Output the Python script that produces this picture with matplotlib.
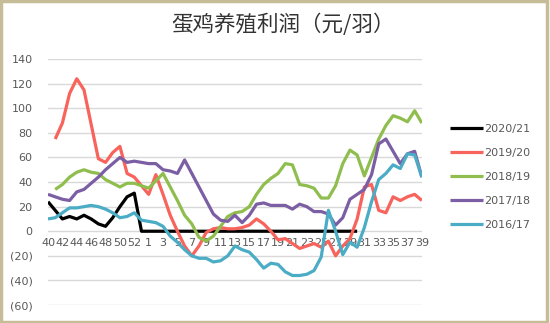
import numpy as np
import matplotlib
matplotlib.use("Agg")
import matplotlib.pyplot as plt
from matplotlib.patches import Rectangle

plt.rcParams['font.family'] = ['DejaVu Sans', 'Noto Sans CJK SC']

# week labels: 40..52, 53, 1..39
weeks = list(range(40, 54)) + list(range(1, 40))
nan = np.nan

s2021 = [24, 17, 10, 12, 10, 13, 10, 6, 4, 11, 20, 28, 31] + [0] * 31 + [nan] * 9
s1920 = [nan, 75, 88, 112, 124, 115, 87, 59, 56, 64, 69, 47, 44, 37, 30, 46, 30, 13,
         0, -12, -20, -12, -1, 2, 3, 2, 2, 3, 5, 10, 6, 0, -7, -6, -10, -14, -12, -10,
         -13, -8, -20, -12, -6, 10, 36, 38, 17, 15, 28, 25, 28, 30, 25]
s1819 = [nan, 34, 38, 44, 48, 50, 48, 47, 42, 39, 36, 39, 39, 37, 35, 41, 47, 36,
         25, 13, 6, -5, -8, -4, 4, 12, 15, 16, 20, 30, 38, 43, 47, 55, 54, 38, 37, 35,
         27, 27, 37, 55, 66, 62, 45, 60, 75, 86, 94, 92, 89, 98, 88]
s1718 = [30, 28, 26, 25, 32, 34, 39, 44, 50, 55, 60, 56, 57, 56, 55, 55, 50, 49,
         47, 58, 47, 36, 25, 14, 9, 8, 13, 7, 13, 22, 23, 21, 21, 21, 18, 22, 20, 16,
         16, 14, 5, 11, 26, 30, 34, 46, 71, 75, 65, 55, 63, 65, 44]
s1617 = [10, 11, 15, 19, 19, 20, 21, 20, 18, 15, 11, 12, 15, 9, 8, 7, 4, -4,
         -9, -15, -20, -22, -22, -25, -24, -20, -12, -15, -17, -23, -30, -26, -27, -33,
         -36, -36, -35, -32, -21, 17, 0, -19, -9, -13, 3, 24, 42, 47, 54, 51, 63, 62, 44]

series = [("2020/21", s2021, "#000000"),
          ("2019/20", s1920, "#f8635c"),
          ("2018/19", s1819, "#8fbe4f"),
          ("2017/18", s1718, "#7b5ea3"),
          ("2016/17", s1617, "#4bacc6")]

fig = plt.figure(figsize=(5.5, 3.23), dpi=100)
ax = fig.add_axes([0.0873, 0.0557, 0.767 - 0.0873, 0.817 - 0.0557])

x = np.arange(len(weeks))
for name, vals, col in series:
    ax.plot(x, vals, color=col, lw=2.3, label=name, solid_capstyle="butt")

ax.set_xlim(0, len(weeks) - 1)
ax.set_ylim(-60, 140)
ax.set_yticks(np.arange(-60, 141, 20))
ax.set_yticklabels([f"({-v})" if v < 0 else f"{v}" for v in range(-60, 141, 20)])
for lab, v in zip(ax.get_yticklabels(), range(-60, 141, 20)):
    lab.set_color("#d9262e" if v < 0 else "#595959")
ax.grid(axis="y", color="#d9d9d9", lw=1)
ax.set_axisbelow(True)

ax.set_xticks(x[::2])
ax.set_xticklabels([str(w) for w in weeks[::2]])
ax.spines["bottom"].set_position(("data", 0))
for sp in ax.spines.values():
    sp.set_visible(False)
ax.tick_params(axis="both", length=0, labelsize=8, colors="#595959")
ax.tick_params(axis="x", pad=5)
ax.tick_params(axis="y", pad=11)

leg = fig.legend(loc="upper left", bbox_to_anchor=(0.81, 0.63), frameon=False,
                 fontsize=8, handlelength=3.0, handletextpad=0.1, labelspacing=1.25,
                 borderaxespad=0)
for t in leg.get_texts():
    t.set_color("#595959")

fig.text(0.515, 0.922, "蛋鸡养殖利润（元/羽）", ha="center", va="center", fontsize=15.5,
         color="#333333", family=["Noto Sans CJK SC", "DejaVu Sans"])

fig.patches.append(Rectangle((0.002, 0.003), 0.993, 0.994, transform=fig.transFigure,
                             fill=False, edgecolor="#c6bd98", lw=2.5))

fig.savefig("out.png", dpi=100)
